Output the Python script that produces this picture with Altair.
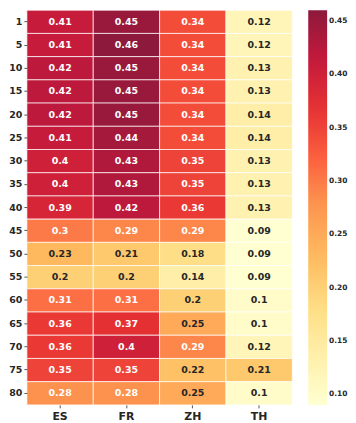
import altair as alt
import pandas as pd

rows = ["1", "5", "10", "15", "20", "25", "30", "35", "40", "45", "50", "55", "60", "65", "70", "75", "80"]
cols = ["ES", "FR", "ZH", "TH"]
es = [0.41, 0.41, 0.42, 0.42, 0.42, 0.41, 0.40, 0.40, 0.39, 0.30, 0.23, 0.20, 0.31, 0.36, 0.36, 0.35, 0.28]
fr = [0.45, 0.46, 0.45, 0.45, 0.45, 0.44, 0.43, 0.43, 0.42, 0.29, 0.21, 0.20, 0.31, 0.37, 0.40, 0.35, 0.28]
zh = [0.34, 0.34, 0.34, 0.34, 0.34, 0.34, 0.35, 0.35, 0.36, 0.29, 0.18, 0.14, 0.20, 0.25, 0.29, 0.22, 0.25]
th = [0.12, 0.12, 0.13, 0.13, 0.14, 0.14, 0.13, 0.13, 0.13, 0.09, 0.09, 0.09, 0.10, 0.10, 0.12, 0.21, 0.10]
legend_ticks = [0.10, 0.15, 0.20, 0.25, 0.30, 0.35, 0.40, 0.45]

# matplotlib YlOrRd stops, blended with white at alpha 0.9
ylorrd = ["#ffffcc", "#ffeda0", "#fed976", "#feb24c", "#fd8d3c",
          "#fc4e2a", "#e31a1c", "#bd0026", "#800026"]


def blend(h, a=0.9):
    r, g, b = int(h[1:3], 16), int(h[3:5], 16), int(h[5:7], 16)
    f = lambda c: round(c * a + 255 * (1 - a))
    return "#%02x%02x%02x" % (f(r), f(g), f(b))


palette = [blend(c) for c in ylorrd]

records = []
for c, vals in zip(cols, [es, fr, zh, th]):
    for r, v in zip(rows, vals):
        records.append({"row": r, "col": c, "value": v})
df = pd.DataFrame(records)

FONT = "DejaVu Sans"

base = alt.Chart(df).encode(
    x=alt.X("col:N", sort=cols, title=None,
            axis=alt.Axis(labelAngle=0, labelFontWeight="bold", labelFontSize=11,
                          labelColor="#262626", domain=False, tickSize=3,
                          tickColor="#555", labelPadding=3, labelFont=FONT)),
    y=alt.Y("row:N", sort=rows, title=None,
            axis=alt.Axis(labelFontWeight="bold", labelFontSize=9.5, labelColor="#262626",
                          domain=False, tickSize=3, tickColor="#555", labelPadding=2,
                          labelFont=FONT)),
)

rect = base.mark_rect(stroke="white", strokeWidth=0.7).encode(
    color=alt.Color("value:Q",
                    scale=alt.Scale(range=palette, domain=[0.09, 0.46], interpolate="rgb"),
                    legend=alt.Legend(title=None, values=legend_ticks, format=".2f",
                                      gradientLength=397, gradientThickness=19,
                                      labelFontWeight="bold", labelFontSize=7.5,
                                      labelColor="#262626", labelFont=FONT,
                                      offset=16, gradientStrokeWidth=0))
)

text = base.mark_text(fontWeight="bold", fontSize=9.5, font=FONT).encode(
    text=alt.Text("value:Q", format=".2~f"),
    color=alt.condition(alt.datum.value > 0.27, alt.value("white"), alt.value("#262626")),
)

chart = (rect + text).properties(
    width=342, height=415,
    autosize=alt.AutoSizeParams(type="fit", contains="padding"),
    padding={"left": 0, "top": 0, "right": 0, "bottom": 0},
).configure_view(strokeWidth=0)

chart.save("out.html", embed_options={"renderer": "svg", "actions": False})
